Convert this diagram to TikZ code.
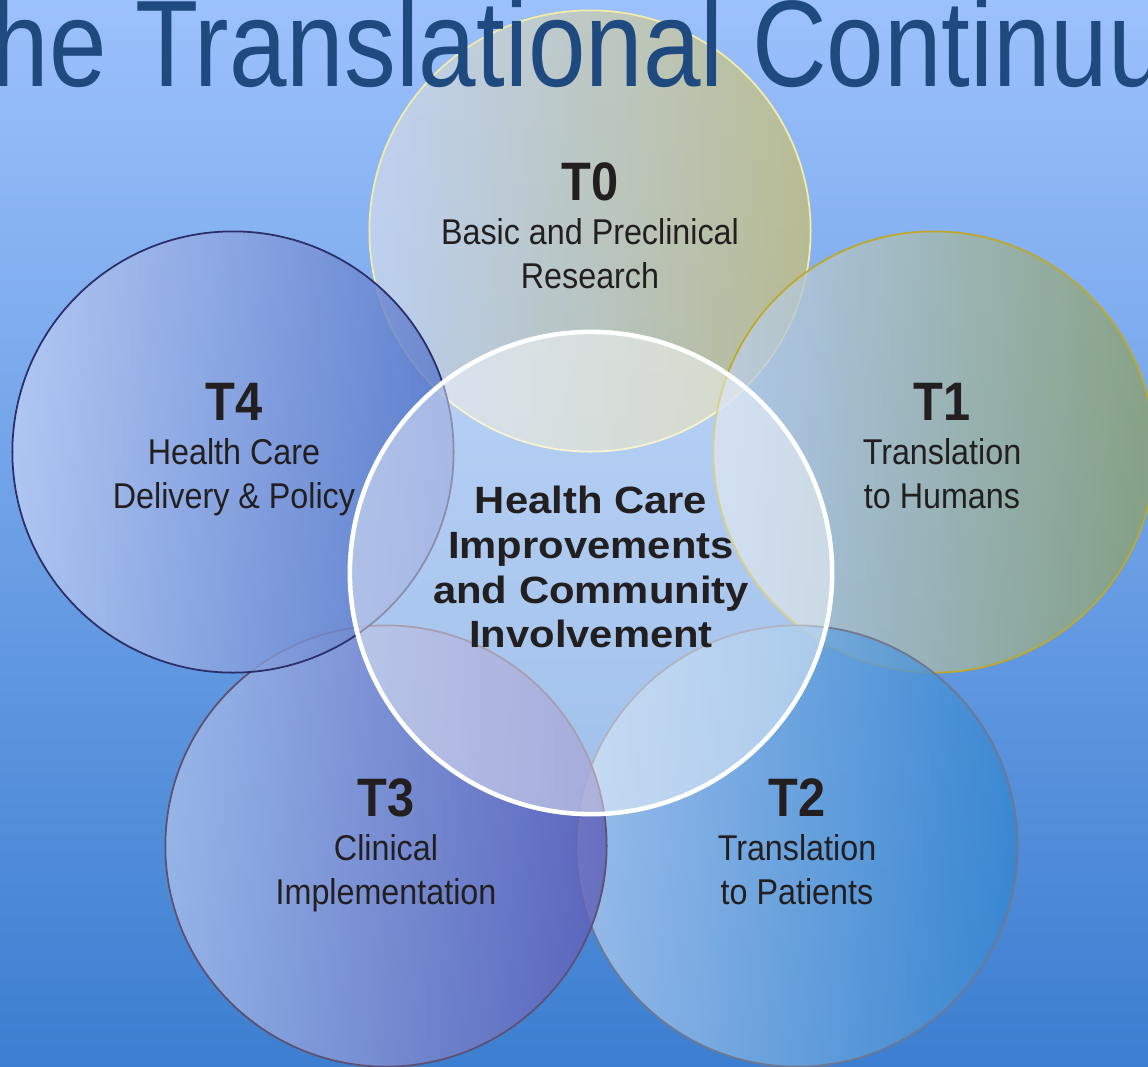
\documentclass[tikz,border=0pt]{standalone}
\usepackage{fontspec}
\usepackage{tikz}
\usetikzlibrary{positioning}
\setmainfont{Liberation Sans}
\newfontfamily\titlefont[FakeStretch=0.84]{Liberation Sans}
\newfontfamily\condfont[FakeStretch=0.9]{Liberation Sans}
\newfontfamily\widefont[FakeStretch=1.1]{Liberation Sans}

\definecolor{bgtop}{RGB}{156,193,252}
\definecolor{bgbot}{RGB}{60,126,208}
\definecolor{titleblue}{RGB}{31,74,128}
\definecolor{ink}{RGB}{35,31,32}

\tikzset{
  phase/.style={circle, inner sep=0pt, minimum size=4.41cm, fill opacity=0.8, line width=0.5pt},
  tname/.style={anchor=base, inner sep=0pt, text=ink, font=\condfont\bfseries\fontsize{15.4}{18}\selectfont},
  tdesc/.style={anchor=base, inner sep=0pt, text=ink, font=\condfont\fontsize{10.2}{12}\selectfont},
  hub/.style={anchor=base, inner sep=0pt, text=ink, font=\widefont\bfseries\fontsize{10.8}{13}\selectfont}
}
\newcommand{\phasenode}[5]{\node [phase, draw=#3, left color=#4, right color=#5] (#1) at (#2) {}}
\newcommand{\phaselabel}[6]{%
  \node [tname] (#1) at (#2,#3) {#4};
  \node [tdesc] (#1a) at (#2,#3+44) {#5};
  \node [tdesc] (#1b) at (#2,#3+88) {#6}}

\begin{document}
\begin{tikzpicture}[x=0.01cm, y=-0.01cm]
\useasboundingbox (0,0) rectangle (1148,1066);
\clip (0,0) rectangle (1148,1066);
\shade [top color=bgtop, bottom color=bgbot] (0,0) rectangle (1148,1066);

% the five phases
\phasenode{T0}{590,231}{{rgb,255:red,244;green,236;blue,168}}{{rgb,255:red,202;green,216;blue,240}}{{rgb,255:red,196;green,190;blue,124}};
\phasenode{T1}{934,452}{{rgb,255:red,192;green,168;blue,40}}{{rgb,255:red,190;green,208;blue,236}}{{rgb,255:red,138;green,160;blue,108}};
\phasenode{T2}{797,846}{{rgb,255:red,112;green,120;blue,144}}{{rgb,255:red,170;green,200;blue,238}}{{rgb,255:red,52;green,134;blue,208}};
\phasenode{T3}{386,846}{{rgb,255:red,96;green,80;blue,112}}{{rgb,255:red,166;green,192;blue,236}}{{rgb,255:red,94;green,92;blue,182}};
\phasenode{T4}{233,452}{{rgb,255:red,42;green,46;blue,106}}{{rgb,255:red,190;green,207;blue,244}}{{rgb,255:red,88;green,118;blue,200}};

% centre
\node [circle, inner sep=0pt, minimum size=4.82cm, fill=white, fill opacity=0.45, draw=white, draw opacity=1, line width=1.3pt] (hub) at (591,573) {};

\node [anchor=base west, inner sep=0pt, text=titleblue, font=\titlefont\fontsize{35}{40}\selectfont] (title) at (-72,86) {The Translational Continuum};

\phaselabel{L0}{590}{200}{T0}{Basic and Preclinical}{Research};
\phaselabel{L1}{942}{420}{T1}{Translation}{to Humans};
\phaselabel{L2}{797}{816}{T2}{Translation}{to Patients};
\phaselabel{L3}{386}{816}{T3}{Clinical}{Implementation};
\phaselabel{L4}{234}{420}{T4}{Health Care}{Delivery \& Policy};

\node [hub] (hub1) at (591,513) {Health Care};
\node [hub] (hub2) at (591,558) {Improvements};
\node [hub] (hub3) at (591,603) {and Community};
\node [hub] (hub4) at (591,647) {Involvement};

\end{tikzpicture}
\end{document}
